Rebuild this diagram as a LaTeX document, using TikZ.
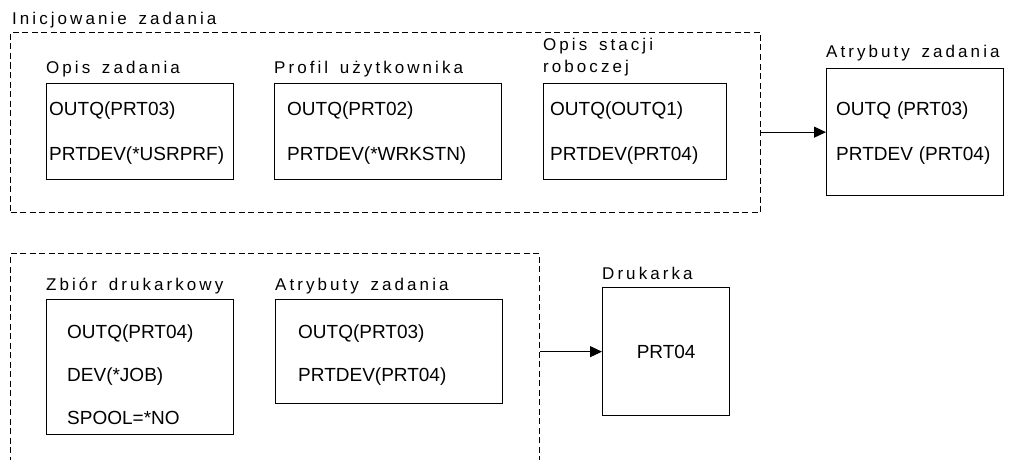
\documentclass[tikz,border=0pt]{standalone}
\usepackage{fontspec}
\setmainfont{Liberation Sans}
\newfontfamily\spacedfont[LetterSpace=18, WordSpace=1.5]{Liberation Sans}
\usetikzlibrary{arrows.meta, positioning}
\tikzset{
  entry_font/.style = {font=\fontsize{19}{23}\selectfont},
  title_font/.style = {font=\spacedfont\fontsize{17}{22}\selectfont},
  thin_line/.style = {line width=1pt},
  thick_line/.style = {line width=1.3pt}
}
\tikzset{
  frame/.style = {draw, thin_line, dash pattern=on 6pt off 3.5pt, anchor=north west, inner sep=0},
  box/.style = {draw, thick_line, anchor=north west, inner sep=0},
  title/.style = {title_font, anchor=base west, inner sep=0, align=left},
  entry/.style = {entry_font, anchor=base west, inner sep=0},
  link/.style = {thin_line, -{Triangle[length=12pt,width=11pt]}}
}
\begin{document}
\begin{tikzpicture}[x=1pt, y=-1pt]
        \useasboundingbox (0,0) rectangle (1011,460);
        \clip (0,0) rectangle (1011,460);

        % Frames
        \node[title] (init_t) at (12,25) {Inicjowanie zadania};
        \node[frame, minimum width=750, minimum height=180] (init) at (10,32) {};
        \node[frame, minimum width=529, minimum height=240] (spool) at (10,253) {};

        % Titles
        \node[title] (job_desc_t) at (46,74) {Opis zadania};
        \node[title] (user_prof_t) at (274,74) {Profil użytkownika};
        \node[title] (wrk_desc_t) at (543,73) {Opis stacji\\roboczej};
        \node[title] (job_attr_t) at (826,58) {Atrybuty zadania};
        \node[title] (spool_file_t) at (46,290) {Zbiór drukarkowy};
        \node[title] (job_attr2_t) at (275,290) {Atrybuty zadania};
        \node[title] (printer_t) at (602,279) {Drukarka};

        % Boxes
        \node[box, minimum width=187, minimum height=96] (job_desc) at (46,83) {};
        \node[box, minimum width=227, minimum height=96] (user_prof) at (274,83) {};
        \node[box, minimum width=183, minimum height=96] (wrk_desc) at (543,83) {};
        \node[box, minimum width=177, minimum height=127] (job_attr) at (826,68) {};
        \node[box, minimum width=187, minimum height=135] (spool_file) at (46,299) {};
        \node[box, minimum width=227, minimum height=104] (job_attr2) at (275,299) {};
        \node[box, minimum width=127, minimum height=128] (printer) at (602,287) {};

        % Entries
        \node[entry] (job_desc_1) at (49,115) {OUTQ(PRT03)};
        \node[entry] (job_desc_2) at (49,160) {PRTDEV(*USRPRF)};
        \node[entry] (user_prof_1) at (287,115) {OUTQ(PRT02)};
        \node[entry] (user_prof_2) at (287,160) {PRTDEV(*WRKSTN)};
        \node[entry] (wrk_desc_1) at (550,115) {OUTQ(OUTQ1)};
        \node[entry] (wrk_desc_2) at (550,160) {PRTDEV(PRT04)};
        \node[entry] (job_attr_1) at (836,115) {OUTQ\hspace{6pt}(PRT03)};
        \node[entry] (job_attr_2) at (836,160) {PRTDEV\hspace{6pt}(PRT04)};
        \node[entry] (spool_file_1) at (67,338) {OUTQ(PRT04)};
        \node[entry] (spool_file_2) at (67,381) {DEV(*JOB)};
        \node[entry] (spool_file_3) at (67,424) {SPOOL=*NO};
        \node[entry] (job_attr2_1) at (298,338) {OUTQ(PRT03)};
        \node[entry] (job_attr2_2) at (298,381) {PRTDEV(PRT04)};
        \node[entry_font] (printer_1) at (printer.center) {PRT04};

        % Arrows
        \draw[link] (init.east |- job_attr.west)--(job_attr.west);
        \draw[link] (spool.east |- printer.west)--(printer.west);
\end{tikzpicture}
\end{document}
